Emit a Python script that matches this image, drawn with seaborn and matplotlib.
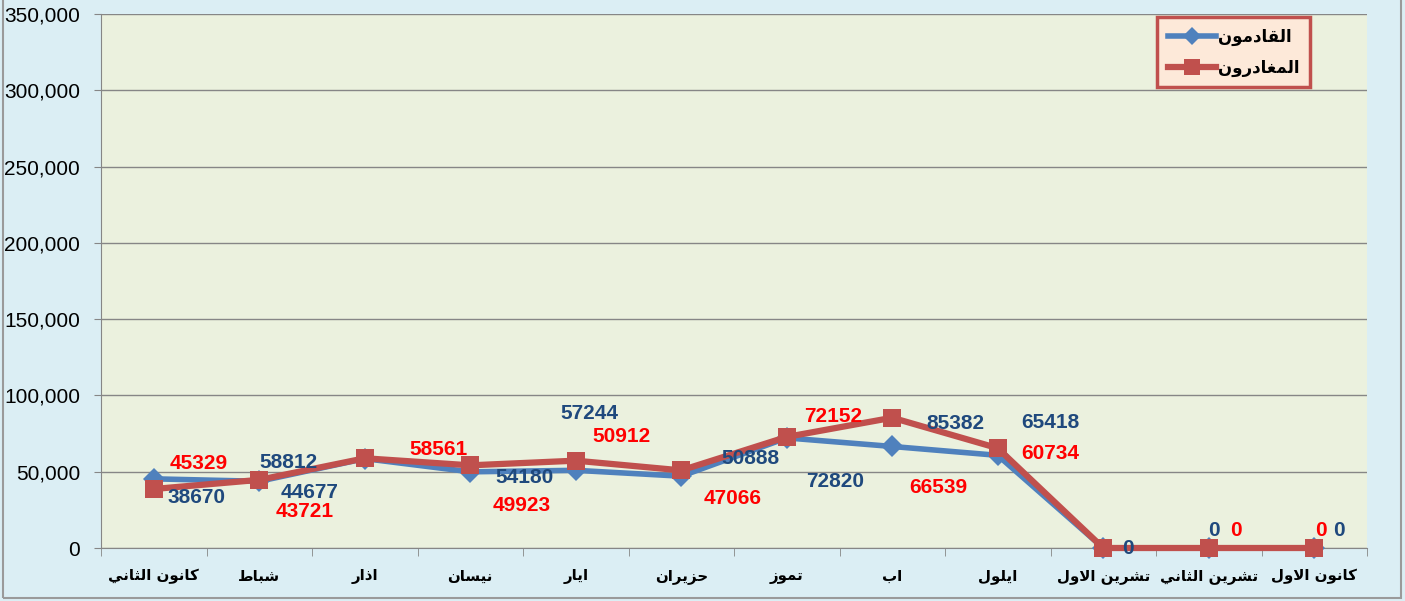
import pandas as pd
import numpy as np
import matplotlib
matplotlib.use("Agg")
import matplotlib.pyplot as plt
import seaborn as sns
from matplotlib.ticker import FuncFormatter, FixedLocator
from matplotlib.lines import Line2D
from matplotlib.patches import Rectangle

# data
months = ['كانون الثاني', 'شباط', 'اذار', 'نيسان', 'ايار', 'حزيران',
          'تموز', 'اب', 'ايلول', 'تشرين الاول', 'تشرين الثاني', 'كانون الاول']
arrivals = [45329, 43721, 58561, 49923, 50912, 47066, 72152, 66539, 60734, 0, 0, 0]
departures = [38670, 44677, 58812, 54180, 57244, 50888, 72820, 85382, 65418, 0, 0, 0]
series_names = ['القادمون', 'المغادرون']

# label offsets in pixels (dx, dy down) - the original labels are scattered
arr_lbl_off = [(45, -15), (45, 30), (74, -9), (51, 34), (46, -34), (51, 22),
               (46, -21), (46, 41), (53, -2), (0, 0), (27, -17), (7, -17)]
dep_lbl_off = [(43, 8), (50, 13), (-76, 4), (54, 12), (14, -47), (69, -12),
               (48, 45), (63, 6), (53, -26), (25, 0), (5, -17), (25, -17)]

# --- crude arabic shaping (matplotlib 3.10 has no bidi / joining) ---
DUAL = {'ب': 0xFE8F, 'ت': 0xFE95, 'ث': 0xFE99, 'ح': 0xFEA1, 'س': 0xFEB1,
        'ش': 0xFEB5, 'ط': 0xFEC1, 'غ': 0xFECD, 'ق': 0xFED5, 'ك': 0xFED9,
        'ل': 0xFEDD, 'م': 0xFEE1, 'ن': 0xFEE5, 'ي': 0xFEF1}
RIGHT = {'ا': 0xFE8D, 'أ': 0xFE83, 'آ': 0xFE81, 'د': 0xFEA9, 'ذ': 0xFEAB,
         'ر': 0xFEAD, 'ز': 0xFEAF, 'و': 0xFEED}
LAMALEF = {'ا': 0xFEFB, 'أ': 0xFEF7, 'آ': 0xFEF5}


def shape(s):
    toks = []
    i = 0
    while i < len(s):
        c = s[i]
        if c == 'ل' and i + 1 < len(s) and s[i + 1] in LAMALEF:
            toks.append(('R', LAMALEF[s[i + 1]]))
            i += 2
            continue
        if c in DUAL:
            toks.append(('D', DUAL[c]))
        elif c in RIGHT:
            toks.append(('R', RIGHT[c]))
        else:
            toks.append(('N', c))
        i += 1
    out = []
    for k, (t, b) in enumerate(toks):
        if t == 'N':
            out.append(b)
            continue
        prev_join = k > 0 and toks[k - 1][0] == 'D'
        next_join = t == 'D' and k + 1 < len(toks) and toks[k + 1][0] in 'DR'
        if prev_join and next_join:
            out.append(chr(b + 3))
        elif prev_join:
            out.append(chr(b + 1))
        elif next_join:
            out.append(chr(b + 2))
        else:
            out.append(chr(b))
    return ''.join(out)[::-1]


df = pd.DataFrame({
    'idx': list(range(12)) * 2,
    'value': arrivals + departures,
    'series': [series_names[0]] * 12 + [series_names[1]] * 12,
})

blue = '#4F81BD'
red = '#C0504D'

fig = plt.figure(figsize=(14.05, 6.01), dpi=100, facecolor='#DBEEF4')
fig.patches.append(Rectangle((0.002, 0.005), 0.995, 1.2, transform=fig.transFigure,
                             fill=False, edgecolor='#9A9A9A', lw=1.5))
ax = fig.add_axes([101 / 1405, 53 / 601, 1266 / 1405, 534 / 601])
ax.set_facecolor('#EBF1DE')

sns.lineplot(data=df[df.series == series_names[0]], x='idx', y='value', ax=ax,
             color=blue, marker='D', markersize=11, markeredgewidth=0,
             linewidth=4, legend=False, zorder=3, clip_on=False)
sns.lineplot(data=df[df.series == series_names[1]], x='idx', y='value', ax=ax,
             color=red, marker='s', markersize=13, markeredgewidth=0,
             linewidth=4.5, legend=False, zorder=4, clip_on=False)

lbl_font = dict(family='Liberation Sans', size=15, weight='bold')
for i, v in enumerate(arrivals):
    dx, dy = arr_lbl_off[i]
    ax.annotate(str(v), (i, v), xytext=(dx, -dy), textcoords='offset pixels',
                ha='center', va='center', color='#FF0000', zorder=2 if (dx, dy) == (0, 0) else 5,
                annotation_clip=False, **lbl_font)
for i, v in enumerate(departures):
    dx, dy = dep_lbl_off[i]
    ax.annotate(str(v), (i, v), xytext=(dx, -dy), textcoords='offset pixels',
                ha='center', va='center', color='#1F497D', zorder=5,
                annotation_clip=False, **lbl_font)

ax.set_xlim(-0.5, 11.5)
ax.set_ylim(0, 350000)
ax.set_yticks(np.arange(0, 350001, 50000))
ax.yaxis.set_major_formatter(FuncFormatter(lambda v, p: f'{v:,.0f}'))
ax.set_xticks(range(12))
ax.set_xticklabels([shape(m) for m in months], family='DejaVu Sans',
                   fontsize=10.8, fontweight='bold')
ax.xaxis.set_minor_locator(FixedLocator(np.arange(-0.5, 12, 1)))
ax.tick_params(axis='x', which='major', length=0, pad=15)
ax.tick_params(axis='x', which='minor', length=6, color='#868686')
ax.tick_params(axis='y', length=5, color='#868686', pad=10)
for t in ax.get_yticklabels():
    t.set_family('Liberation Sans')
    t.set_fontsize(15)
ax.set_xlabel('')
ax.set_ylabel('')
ax.grid(axis='y', color='#868686', lw=1)
ax.set_axisbelow(True)
for s in ['top', 'right']:
    ax.spines[s].set_visible(False)
for s in ['left', 'bottom']:
    ax.spines[s].set_color('#868686')

handles = [Line2D([], [], color=blue, lw=4, marker='D', ms=9, mew=0),
           Line2D([], [], color=red, lw=4.5, marker='s', ms=11, mew=0)]
leg = ax.legend(handles, [shape(n) for n in series_names], loc='upper right',
                bbox_to_anchor=(1209 / 1266, 1 - 3 / 534), frameon=True,
                prop=dict(family='DejaVu Sans', size=12, weight='bold'),
                handlelength=2.9, handletextpad=0.1, labelspacing=0.75,
                borderpad=0.65, borderaxespad=0, fancybox=False)
leg.get_frame().set_facecolor('#FDE9D9')
leg.get_frame().set_edgecolor(red)
leg.get_frame().set_linewidth(2.5)
leg.get_frame().set_alpha(1)

plt.savefig('out.png', dpi=100, facecolor=fig.get_facecolor())
